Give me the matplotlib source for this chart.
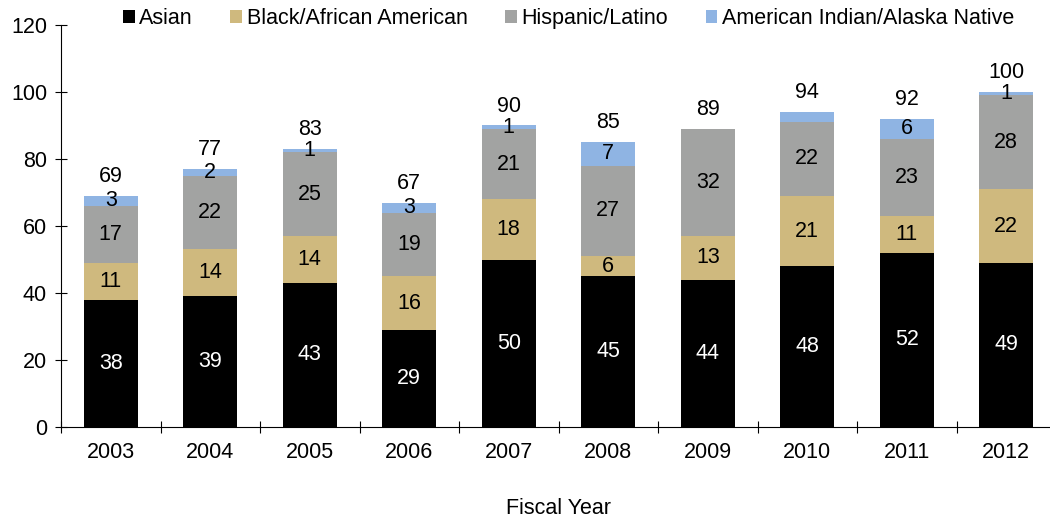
import matplotlib
matplotlib.use("Agg")
import matplotlib.pyplot as plt
import numpy as np

plt.rcParams['font.family'] = ['Liberation Sans', 'DejaVu Sans']

years = ['2003', '2004', '2005', '2006', '2007', '2008', '2009', '2010', '2011', '2012']
asian = [38, 39, 43, 29, 50, 45, 44, 48, 52, 49]
black = [11, 14, 14, 16, 18, 6, 13, 21, 11, 22]
hispanic = [17, 22, 25, 19, 21, 27, 32, 22, 23, 28]
aian = [3, 2, 1, 3, 1, 7, 0, 3, 6, 1]
aian_labels = ['3', '2', '1', '3', '1', '7', '', '', '6', '1']
totals = [69, 77, 83, 67, 90, 85, 89, 94, 92, 100]

names = ['Asian', 'Black/African American', 'Hispanic/Latino', 'American Indian/Alaska Native']
colors = ['#000000', '#cfb97e', '#a2a3a2', '#8fb4e3']
series = [asian, black, hispanic, aian]

fig = plt.figure(figsize=(10.5, 5.2), dpi=100)
ax = fig.add_axes([61 / 1050, 93 / 520, 995 / 1050, 402 / 520])

x = np.arange(len(years))
bottom = np.zeros(len(years))
fs = 15.5
for k, (vals, col, name) in enumerate(zip(series, colors, names)):
    vals = np.array(vals, dtype=float)
    ax.bar(x, vals, 0.54, bottom=bottom, color=col, label=name, zorder=2)
    for i in range(len(years)):
        if k == 3:
            lab = aian_labels[i]
        else:
            lab = str(int(vals[i]))
        if lab:
            ax.text(x[i], bottom[i] + vals[i] / 2, lab, ha='center', va='center',
                    fontsize=fs, color='white' if k == 0 else 'black', zorder=3)
    bottom += vals

for i in range(len(years)):
    ax.text(x[i], totals[i] + 5.8, str(totals[i]), ha='center', va='center', fontsize=fs)

ax.set_xlim(-0.5, len(years) - 0.5)
ax.set_ylim(0, 120)
ax.set_yticks(range(0, 121, 20))
ax.set_xticks(x)
ax.set_xticklabels(years)
ax.set_xticks(np.arange(-0.5, len(years), 1), minor=True)
ax.tick_params(axis='x', which='major', length=0, labelsize=fs, pad=11)
ax.tick_params(axis='x', which='minor', length=8, direction='inout', width=0.8)
ax.tick_params(axis='y', length=8, direction='inout', labelsize=fs, width=0.8, pad=6)
for s in ['top', 'right']:
    ax.spines[s].set_visible(False)
for s in ['left', 'bottom']:
    ax.spines[s].set_linewidth(0.8)

ax.set_xlabel('Fiscal Year', fontsize=fs, labelpad=25)

leg = fig.legend(loc='upper left', bbox_to_anchor=(110 / 1050, 1.01), ncol=4, frameon=False,
                 fontsize=fs, handlelength=0.55, handleheight=0.55, handletextpad=0.2,
                 columnspacing=1.75, borderaxespad=0.2)

fig.savefig('out.png', dpi=100)
